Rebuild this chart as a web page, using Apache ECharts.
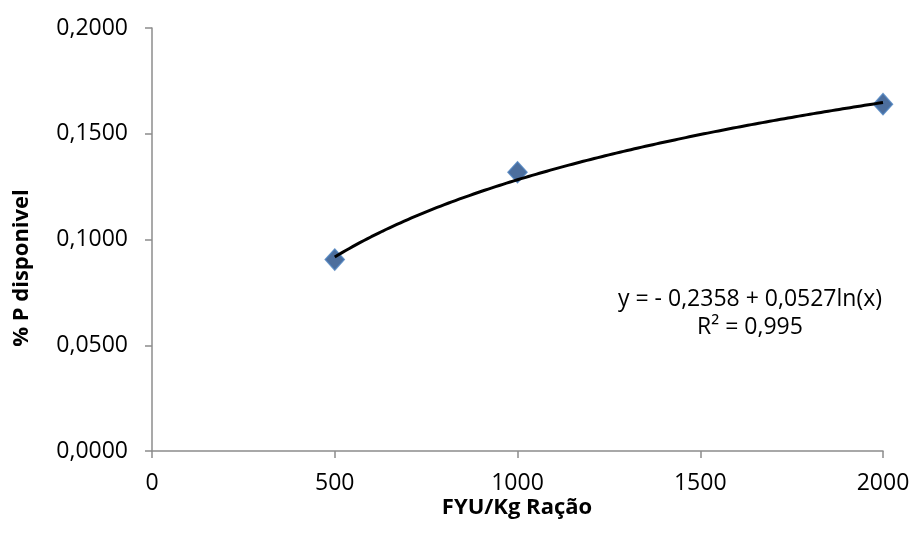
<!DOCTYPE html>
<html>
<head>
<meta charset="utf-8">
<script src="https://cdn.jsdelivr.net/npm/echarts@6/dist/echarts.min.js"></script>
<style>
  html, body { margin: 0; padding: 0; background: #fff; }
  #chart { width: 913px; height: 547px; }
</style>
</head>
<body>
<div id="chart"></div>
<script>
// Phytase dose (FYU per kg of feed) vs available phosphorus (%)
const doses = [500, 1000, 2000];
const availableP = [0.0905, 0.1318, 0.1640];

// Logarithmic trend: y = a + b ln(x)
const trendA = -0.2358;
const trendB = 0.0527;
const trendLabel = ['y = - 0,2358 + 0,0527ln(x)', 'R² = 0,995'];

const xTicks = [0, 500, 1000, 1500, 2000];
const yTicks = [0, 0.05, 0.10, 0.15, 0.20];

const trendXs = [];
for (let x = doses[0]; x <= doses[doses.length - 1]; x += 10) trendXs.push(x);
const trendData = trendXs.map(x => [x, trendA + trendB * Math.log(x)]);

const font = '"Open Sans", "DejaVu Sans", sans-serif';
const chart = echarts.init(document.getElementById('chart'), null, { renderer: 'canvas' });

chart.setOption({
  animation: false,
  backgroundColor: '#ffffff',
  grid: { left: 152, right: 30, top: 28, bottom: 96 },
  xAxis: {
    type: 'value',
    min: xTicks[0], max: xTicks[xTicks.length - 1], interval: 500,
    axisLine: { lineStyle: { color: '#8c8c8c', width: 1.5 } },
    axisTick: { show: true, length: 7, lineStyle: { color: '#8c8c8c', width: 1.5 } },
    splitLine: { show: false },
    axisLabel: {
      color: '#000', fontFamily: font, fontSize: 23, margin: 21,
      formatter: v => String(v)
    }
  },
  yAxis: {
    type: 'value',
    min: yTicks[0], max: yTicks[yTicks.length - 1], interval: 0.05,
    axisLine: { show: true, lineStyle: { color: '#8c8c8c', width: 1.5 } },
    axisTick: { show: true, length: 7, lineStyle: { color: '#8c8c8c', width: 1.5 } },
    splitLine: { show: false },
    axisLabel: {
      color: '#000', fontFamily: font, fontSize: 23, margin: 24,
      formatter: v => v.toFixed(4).replace('.', ',')
    }
  },
  series: [
    {
      name: 'Tendência',
      type: 'line',
      data: trendData,
      showSymbol: false,
      smooth: false,
      lineStyle: { color: '#000', width: 3 },
      z: 3
    },
    {
      name: '% P disponivel',
      type: 'scatter',
      data: doses.map((d, i) => [d, availableP[i]]),
      symbol: 'diamond',
      symbolSize: [19, 21],
      itemStyle: { color: '#1f4a85', borderColor: '#4a7ebb', borderWidth: 1.5 },
      z: 2
    }
  ],
  graphic: [
    {
      type: 'text', x: 517, y: 508,
      style: {
        text: 'FYU/Kg Ração', align: 'center', verticalAlign: 'middle',
        font: 'bold 22px ' + font, fill: '#000'
      }
    },
    {
      type: 'text', x: 22, y: 268, rotation: Math.PI / 2,
      style: {
        text: '% P disponivel', align: 'center', verticalAlign: 'middle',
        font: 'bold 22px ' + font, fill: '#000'
      }
    },
    {
      type: 'text', x: 750, y: 299,
      style: {
        text: trendLabel[0], align: 'center', verticalAlign: 'middle',
        font: '23px ' + font, fill: '#000'
      }
    },
    {
      type: 'text', x: 750, y: 327,
      style: {
        text: trendLabel[1], align: 'center', verticalAlign: 'middle',
        font: '23px ' + font, fill: '#000'
      }
    }
  ]
});
</script>
</body>
</html>
